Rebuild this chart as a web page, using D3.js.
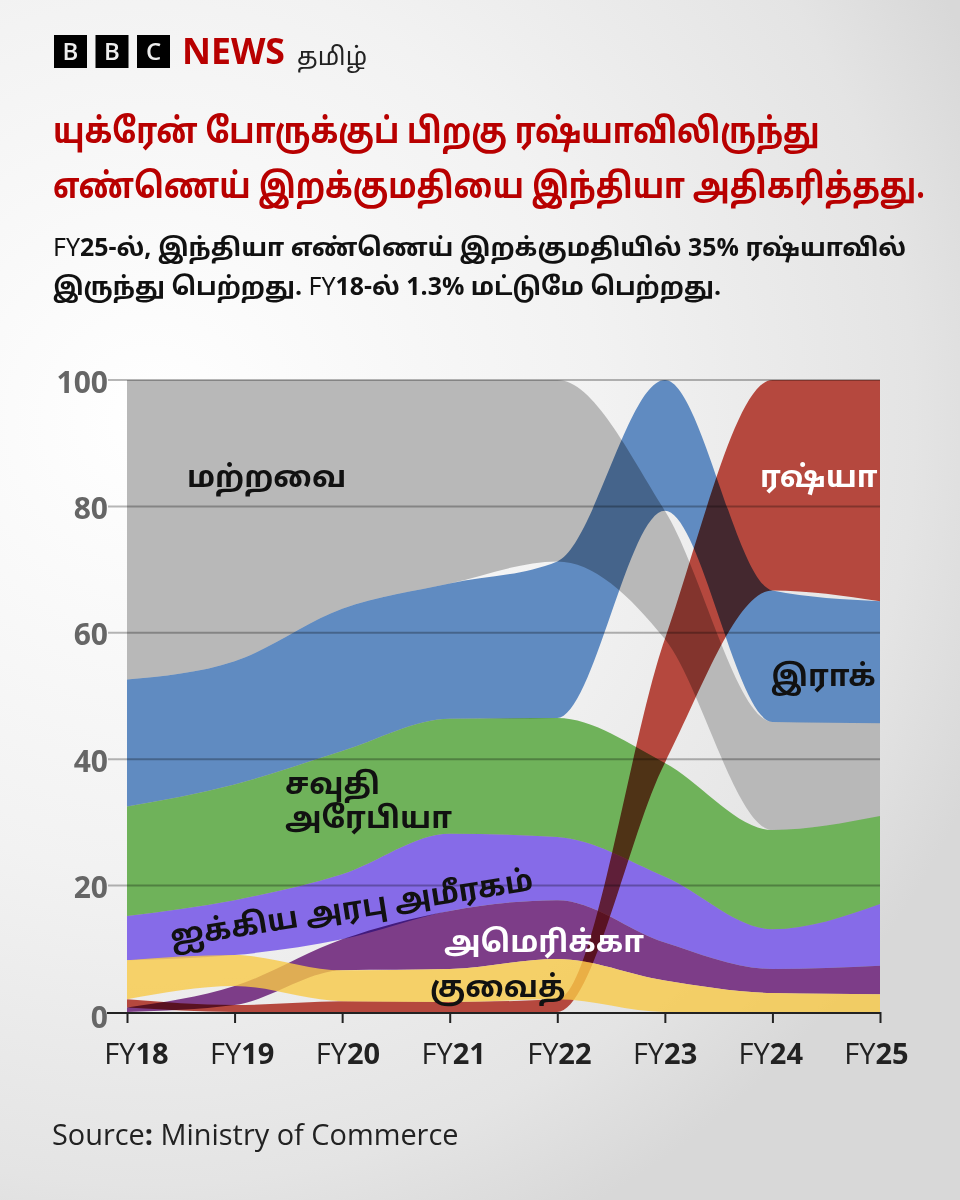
<!DOCTYPE html>
<html>
<head>
<meta charset="utf-8">
<script src="https://cdn.jsdelivr.net/npm/d3@7"></script>
<style>
  html, body { margin: 0; padding: 0; }
  svg { display: block; font-family: "Noto Sans", "Open Sans", sans-serif; }
</style>
</head>
<body>
<div id="chart"></div>
<script>
// Share of India's oil imports, percent, per financial year
const years = ['18', '19', '20', '21', '22', '23', '24', '25'];
const yTicks = [0, 20, 40, 60, 80, 100];

const russia = [1.3, 1.1, 1.7, 1.6, 2.0, 19.6, 33.3, 35.0];
const usa    = [0.7, 3.0, 4.9, 9.2, 9.3, 6.0, 3.8, 4.5];
const kuwait = [6.2, 4.9, 4.9, 5.2, 6.4, 5.0, 3.0, 2.8];
const uae    = [7.0, 8.7, 10.3, 12.2, 10.0, 10.4, 6.3, 9.8];
const saudi  = [17.3, 18.3, 19.5, 18.2, 18.8, 18.0, 15.7, 13.9];
const iraq   = [20.1, 19.5, 22.5, 21.4, 24.8, 20.7, 20.8, 19.3];
const others = [47.4, 44.5, 36.2, 32.2, 28.7, 20.3, 17.1, 14.7];

// Stacking order per year, bottom to top: the bands swap places
const order = [
  ['usa', 'russia', 'kuwait', 'uae', 'saudi', 'iraq', 'others'],
  ['russia', 'usa', 'kuwait', 'uae', 'saudi', 'iraq', 'others'],
  ['russia', 'kuwait', 'usa', 'uae', 'saudi', 'iraq', 'others'],
  ['russia', 'kuwait', 'usa', 'uae', 'saudi', 'iraq', 'others'],
  ['russia', 'kuwait', 'usa', 'uae', 'saudi', 'iraq', 'others'],
  ['kuwait', 'usa', 'uae', 'saudi', 'russia', 'others', 'iraq'],
  ['kuwait', 'usa', 'uae', 'saudi', 'others', 'iraq', 'russia'],
  ['kuwait', 'usa', 'uae', 'saudi', 'others', 'iraq', 'russia']
];

const shares = { russia, usa, kuwait, uae, saudi, iraq, others };
const colors = {
  others: '#b8b8b8', iraq: '#608bc1', saudi: '#6fb25a', uae: '#866be8',
  usa: '#7d3d88', kuwait: '#f8c947', russia: '#b5483e'
};
const multiplied = ['others', 'iraq', 'saudi', 'uae', 'usa', 'russia'];

const width = 960, height = 1200;
const x = d3.scalePoint().domain(years).range([127, 880]);
const y = d3.scaleLinear().domain([0, 100]).range([1012, 380]);
// The year labels are spaced a little tighter than the ticks
const xLabel = d3.scalePoint().domain(years).range([136, 876]);

const svg = d3.select('#chart').append('svg')
  .attr('width', width)
  .attr('height', height);

// Page background
const grad = svg.append('defs').append('radialGradient')
  .attr('id', 'bg')
  .attr('gradientUnits', 'userSpaceOnUse')
  .attr('cx', 150).attr('cy', 420).attr('r', 900);
grad.append('stop').attr('offset', '0%').attr('stop-color', '#ffffff');
grad.append('stop').attr('offset', '50%').attr('stop-color', '#f2f2f2');
grad.append('stop').attr('offset', '85%').attr('stop-color', '#e4e4e4');
grad.append('stop').attr('offset', '100%').attr('stop-color', '#d8d8d8');
svg.append('rect').attr('width', width).attr('height', height).attr('fill', 'url(#bg)');

// Work out lower and upper edge of each band per year
function bandFor(name) {
  return years.map((yr, i) => {
    let base = 0;
    for (const other of order[i]) {
      if (other === name) break;
      base += shares[other][i];
    }
    return { yr, y0: base, y1: base + shares[name][i] };
  });
}

const area = d3.area()
  .x(d => x(d.yr))
  .y0(d => y(d.y0))
  .y1(d => y(d.y1))
  .curve(d3.curveMonotoneX);

const bands = svg.append('g').style('isolation', 'isolate');
bands.selectAll('path.band')
  .data(multiplied)
  .enter()
  .append('path')
  .attr('class', 'band')
  .attr('d', d => area(bandFor(d)))
  .attr('fill', d => colors[d])
  .style('mix-blend-mode', 'multiply');

// Kuwait goes on top, see-through rather than multiplied
bands.append('path')
  .attr('d', area(bandFor('kuwait')))
  .attr('fill', colors.kuwait)
  .attr('fill-opacity', 0.8);

// Gridlines sit over the bands
svg.append('g').selectAll('line')
  .data(yTicks.filter(d => d > 0))
  .enter()
  .append('line')
  .attr('x1', 108)
  .attr('x2', 880)
  .attr('y1', d => y(d))
  .attr('y2', d => y(d))
  .attr('stroke', '#000')
  .attr('stroke-opacity', 0.28)
  .attr('stroke-width', 2);

// Axes
const yAxis = svg.append('g')
  .attr('transform', 'translate(107,0)')
  .call(d3.axisLeft(y).tickValues(yTicks).tickSize(0).tickPadding(-1));
yAxis.select('.domain').remove();
yAxis.selectAll('text')
  .attr('fill', '#666')
  .attr('font-size', 30)
  .attr('font-weight', 700)
  .attr('font-family', '"Open Sans", "Noto Sans", sans-serif')
  .attr('dy', d => d === 0 ? '0.5em' : '0.4em');

const xAxis = svg.append('g')
  .attr('transform', 'translate(0,1012)')
  .call(d3.axisBottom(x).tickSize(11).tickPadding(14).tickFormat(''));
xAxis.select('.domain').attr('d', 'M107,1V1H880').attr('stroke', '#222').attr('stroke-width', 2);
xAxis.selectAll('.tick line').attr('stroke', '#222').attr('stroke-width', 2);
xAxis.selectAll('.tick text')
  .attr('fill', '#222')
  .attr('font-size', 29)
  .attr('x', d => xLabel(d) - x(d))
  .attr('y', 52)
  .attr('dy', 0)
  .attr('font-family', '"Open Sans", "Noto Sans", sans-serif')
  .each(function (d) {
    const t = d3.select(this);
    t.append('tspan').text('FY');
    t.append('tspan').attr('font-weight', 700).text(d);
  });

// Band labels
const tamil = '"Noto Sans Tamil", "Noto Sans", "Lato", sans-serif';
const labels = [
  { text: 'மற்றவை', x: 187, y: 487, fill: '#111' },
  { text: 'சவுதி', x: 285, y: 794, fill: '#111' },
  { text: 'அரேபியா', x: 285, y: 828, fill: '#111' },
  { text: 'ரஷ்யா', x: 760, y: 487, fill: '#fff' },
  { text: 'இராக்', x: 771, y: 686, fill: '#111' },
  { text: 'அமெரிக்கா', x: 444, y: 952, fill: '#fff' },
  { text: 'குவைத்', x: 430, y: 997, fill: '#111' }
];
svg.append('g').selectAll('text')
  .data(labels)
  .enter()
  .append('text')
  .attr('x', d => d.x)
  .attr('y', d => d.y)
  .attr('fill', d => d.fill)
  .attr('font-family', tamil)
  .attr('font-size', 30)
  .attr('font-weight', 700)
  .text(d => d.text);

svg.append('text')
  .attr('transform', 'translate(172,947) rotate(-9)')
  .attr('fill', '#111')
  .attr('font-family', tamil)
  .attr('font-size', 30)
  .attr('font-weight', 700)
  .text('ஐக்கிய அரபு அமீரகம்');

// BBC logo
const logo = svg.append('g').attr('transform', 'translate(54,35)');
['B', 'B', 'C'].forEach((c, i) => {
  logo.append('rect').attr('x', i * 41.5).attr('width', 33).attr('height', 33).attr('fill', '#000');
  logo.append('text').attr('x', i * 41.5 + 16.5).attr('y', 25)
    .attr('text-anchor', 'middle').attr('fill', '#eee')
    .attr('font-size', 24).attr('font-weight', 600)
    .attr('font-family', '"Open Sans", sans-serif').text(c);
});
svg.append('text').attr('x', 182).attr('y', 64)
  .attr('fill', '#b80000').attr('font-size', 35).attr('font-weight', 700)
  .attr('font-family', '"Open Sans", sans-serif')
  .attr('textLength', 103).attr('lengthAdjust', 'spacingAndGlyphs').text('NEWS');
svg.append('text').attr('x', 297).attr('y', 65)
  .attr('fill', '#222').attr('font-size', 25).attr('font-family', tamil).text('தமிழ்');

// Headline: squeezed sideways to the reference's narrower letterforms
const titleLines = ['யுக்ரேன் போருக்குப் பிறகு ரஷ்யாவிலிருந்து', 'எண்ணெய் இறக்குமதியை இந்தியா அதிகரித்தது.'];
const titleWidths = [767, 872];
titleLines.forEach((t, i) => {
  const line = svg.append('text')
    .attr('fill', '#b80000').attr('font-size', 35).attr('font-weight', 700)
    .attr('font-family', tamil)
    .text(t);
  const squeeze = titleWidths[i] / line.node().getComputedTextLength();
  line.attr('transform', `translate(53,${143 + i * 55}) scale(${squeeze},1)`);
});

const introLines = [
  [['FY', 400], ['25-ல், இந்தியா எண்ணெய் இறக்குமதியில் 35% ரஷ்யாவில்', 700]],
  [['இருந்து பெற்றது. ', 700], ['FY', 400], ['18-ல் 1.3% மட்டுமே பெற்றது.', 700]]
];
introLines.forEach((parts, i) => {
  const t = svg.append('text').attr('x', 53).attr('y', 256 + i * 39)
    .attr('fill', '#111').attr('font-size', 24.9).attr('font-family', tamil);
  parts.forEach(p => t.append('tspan').attr('font-weight', p[1]).text(p[0]));
});

// Source
const source = svg.append('text').attr('x', 52).attr('y', 1145)
  .attr('fill', '#222').attr('font-size', 28.9)
  .attr('font-family', '"Open Sans", sans-serif');
source.append('tspan').text('Source');
source.append('tspan').attr('font-weight', 700).text(':');
source.append('tspan').text(' Ministry of Commerce');
</script>
</body>
</html>
